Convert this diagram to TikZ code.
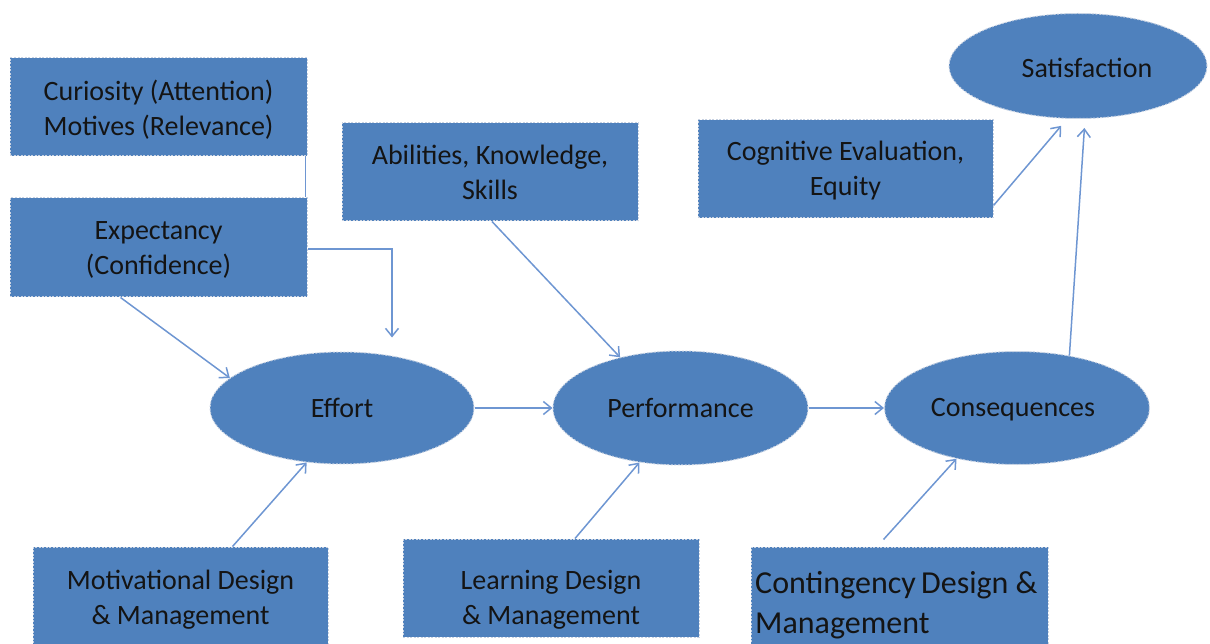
\documentclass[tikz,border=0pt]{standalone}
\usepackage{fontspec}
\setmainfont{Carlito}
\usetikzlibrary{arrows.meta,shapes.geometric}
\definecolor{boxblue}{HTML}{4F81BD}
\definecolor{edgegray}{HTML}{C8D2E2}
\definecolor{arrblue}{HTML}{6E96D2}
\definecolor{txt}{HTML}{141414}
\tikzset{
  rbox/.style={rectangle, fill=boxblue, draw=edgegray, dash pattern=on 2pt off 1.5pt, line width=1pt,
    text=txt, align=center, inner sep=0pt, font=\fontsize{28}{35}\selectfont},
  ebox/.style={ellipse, fill=boxblue, draw=edgegray, dash pattern=on 2pt off 1.5pt, line width=1pt,
    text=txt, inner sep=0pt, font=\fontsize{28}{35}\selectfont},
  lbl/.style={text=txt, align=center, inner sep=0pt, font=\fontsize{28}{35}\selectfont},
  arr/.style={draw=arrblue, line width=1.5pt, -{Straight Barb[length=8pt,width=13pt,line width=1.5pt]}},
  plain/.style={draw=arrblue, line width=1.5pt},
}
\begin{document}
\begin{tikzpicture}[x=1pt,y=-1pt]
\useasboundingbox (0,0) rectangle (1210,644);
% boxes
\node[rbox, minimum width=297pt, minimum height=98pt] (cur) at (158.5,107) {};
\node[lbl] (curtxt) at (158.5,110) {Curiosity (Attention)\\Motives (Relevance)};
\node[rbox, minimum width=297pt, minimum height=99pt] (exp) at (158.5,247.5) {};
\node[lbl] (exptxt) at (158.5,250) {Expectancy\\(Confidence)};
\node[rbox, minimum width=296pt, minimum height=98pt] (abil) at (490,172) {Abilities, Knowledge,\\Skills};
\node[rbox, minimum width=295pt, minimum height=98pt] (cog) at (845.5,169) {};
\node[lbl] (cogtxt) at (845.5,171) {Cognitive Evaluation,\\Equity};
\node[rbox, minimum width=295pt, minimum height=100pt] (mot) at (180.5,597) {};
\node[lbl] (mottxt) at (180.5,600) {Motivational Design\\\& Management};
\node[rbox, minimum width=296pt, minimum height=98pt] (learn) at (551,588) {};
\node[lbl] (learntxt) at (551,600) {Learning Design\\\& Management};
\node[rbox, minimum width=297pt, minimum height=104pt] (cont) at (899.5,599) {};
\node[lbl, align=left, anchor=west, font=\fontsize{32}{40}\selectfont] (conttxt) at (755,605) {Contingency\,Design \&\\Management};
% ellipses
\node[ebox, minimum width=258pt, minimum height=105pt] (sat) at (1078,66) {};
\node[lbl] (sattxt) at (1087,68) {Satisfaction};
\node[ebox, minimum width=264pt, minimum height=112pt] (effort) at (342,408) {Effort};
\node[ebox, minimum width=255pt, minimum height=114pt] (perf) at (680.5,408) {Performance};
\node[ebox, minimum width=265pt, minimum height=113pt] (cons) at (1017,408) {};
\node[lbl] (constxt) at (1013,410) {Consequences};
% connectors
\draw[plain] ([xshift=-2pt]cur.south east) -- ([xshift=-2pt]exp.north east);
\draw[arr] ([xshift=-38pt]exp.south) -- (effort.165);
\draw[arr, shorten >=14pt] ([yshift=-1.5pt]exp.east) -| ([xshift=50pt]effort.north);
\draw[arr] ([xshift=2pt]abil.south) -- (perf.140);
\draw[arr] (effort.east) -- (perf.west);
\draw[arr] (perf.east) -- (cons.west);
\draw[arr, shorten >=9pt] (cons.45) -- ([xshift=7pt]sat.south);
\draw[arr, shorten >=9pt] ([yshift=13pt]cog.south east) -- ([xshift=-11pt]sat.south);
\draw[arr] ([xshift=52pt]mot.north) -- (effort.-123);
\draw[arr] ([xshift=24pt]learn.north) -- (perf.-127);
\draw[arr] ([xshift=-16pt,yshift=7pt]cont.north) -- (cons.-140);
\end{tikzpicture}
\end{document}
